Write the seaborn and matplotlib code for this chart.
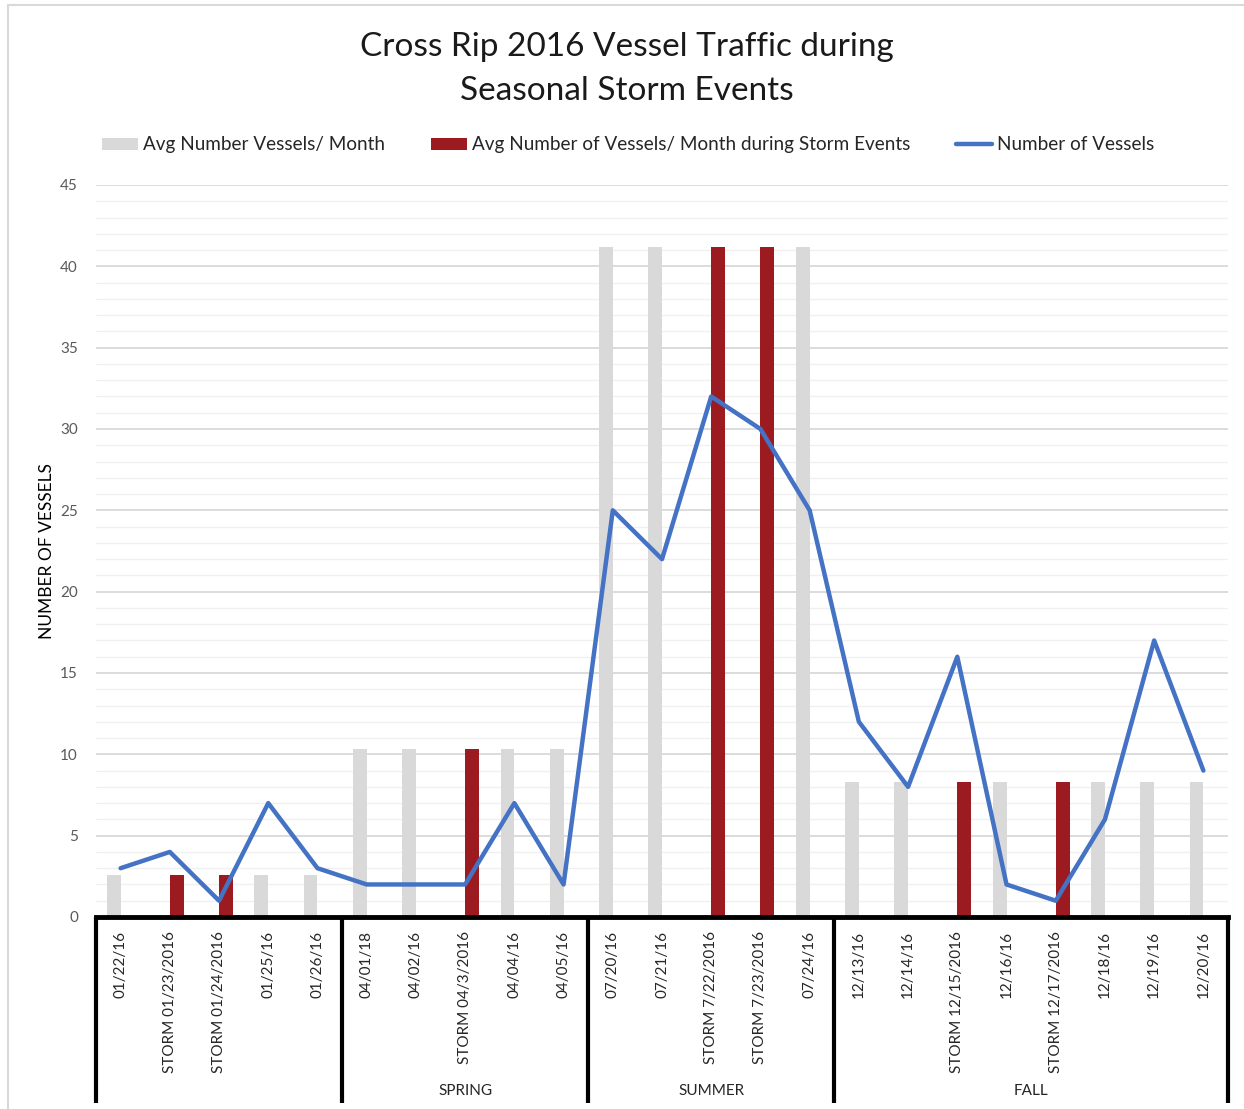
import matplotlib

matplotlib.use("Agg")
import matplotlib.pyplot as plt
import numpy as np
import pandas as pd
import seaborn as sns
from matplotlib.lines import Line2D
from matplotlib.patches import Patch, Rectangle
from matplotlib.ticker import MultipleLocator

# ---------- data ----------
dates = [
    "01/22/16", "STORM 01/23/2016", "STORM 01/24/2016", "01/25/16", "01/26/16",
    "04/01/18", "04/02/16", "STORM 04/3/2016", "04/04/16", "04/05/16",
    "07/20/16", "07/21/16", "STORM 7/22/2016", "STORM 7/23/2016", "07/24/16",
    "12/13/16", "12/14/16", "STORM 12/15/2016", "12/16/16", "STORM 12/17/2016",
    "12/18/16", "12/19/16", "12/20/16",
]
seasons = ["", "SPRING", "SUMMER", "FALL"]
season_sizes = [5, 5, 5, 8]
season_avg = [2.6, 10.3, 41.2, 8.3]
vessels = [3, 4, 1, 7, 3,
           2, 2, 2, 7, 2,
           25, 22, 32, 30, 25,
           12, 8, 16, 2, 1, 6, 17, 9]

avg_label = "Avg Number Vessels/ Month"
storm_label = "Avg Number of Vessels/ Month during Storm Events"
line_label = "Number of Vessels"

GRAY = "#d9d9d9"
RED = "#9b1b20"
BLUE = "#4472c4"

# long table for the bar series
rows = []
avg_per_day = np.repeat(season_avg, season_sizes)
for d, v in zip(dates, avg_per_day):
    storm = d.startswith("STORM")
    rows.append({"date": d, "series": avg_label, "value": 0.0 if storm else v})
    rows.append({"date": d, "series": storm_label, "value": v if storm else 0.0})
df = pd.DataFrame(rows)

# ---------- plot ----------
sns.set_theme(style="white")
plt.rcParams["font.family"] = ["Lato", "DejaVu Sans"]

fig = plt.figure(figsize=(12.44, 11.09), dpi=100)
ax = fig.add_axes([96 / 1244, 1 - 917 / 1109, 1132 / 1244, 732 / 1109])

sns.barplot(
    data=df, x="date", y="value", hue="series", order=dates,
    hue_order=[avg_label, storm_label], palette=[GRAY, RED],
    width=0.56, dodge=True, saturation=1, linewidth=0, legend=False,
    errorbar=None, ax=ax, zorder=3,
)
pos = np.arange(len(dates))
sns.lineplot(x=pos, y=vessels, color=BLUE, linewidth=3.2, ax=ax, zorder=5)

ax.set_xlim(-0.5, len(dates) - 0.5)
ax.set_ylim(0, 45)
ax.yaxis.set_major_locator(MultipleLocator(5))
ax.yaxis.set_minor_locator(MultipleLocator(1))
ax.grid(which="major", axis="y", color="#d9d9d9", linewidth=1.3, zorder=0)
ax.grid(which="minor", axis="y", color="#f0f0f0", linewidth=1.0, zorder=0)
ax.set_axisbelow(True)

for s in ["top", "right", "left"]:
    ax.spines[s].set_visible(False)
ax.spines["bottom"].set_color("black")
ax.spines["bottom"].set_linewidth(3.5)
ax.spines["bottom"].set_zorder(6)

ax.tick_params(axis="y", which="both", length=0, labelsize=11, labelcolor="#595959", pad=13)
ax.tick_params(axis="x", length=0, labelsize=11, labelcolor="#262626", pad=10)
ax.set_xticks(pos)
ax.set_xticklabels(dates, rotation=90, va="top", ha="center")
ax.set_xlabel("")
ax.set_ylabel("NUMBER OF VESSELS", fontsize=12.5, color="#000000")
ax.yaxis.set_label_coords(-0.036, 0.5)

# season groups under the axis
tr = ax.get_xaxis_transform()
bounds = np.concatenate([[0], np.cumsum(season_sizes)]) - 0.5
for b in bounds:
    ax.plot([b, b], [0, -0.254], transform=tr, color="black", linewidth=3,
            clip_on=False, solid_capstyle="butt", zorder=6)
for name, lo, hi in zip(seasons, bounds[:-1], bounds[1:]):
    ax.text((lo + hi) / 2, -0.238, name, transform=tr, ha="center", va="center",
            fontsize=11, color="#262626")

# title and legend
fig.text(0.504, 1 - 69 / 1109, "Cross Rip 2016 Vessel Traffic during\nSeasonal Storm Events",
         ha="center", va="center", fontsize=24, fontweight="normal", linespacing=1.62,
         color="#1a1a1a")
handles = [
    Patch(facecolor=GRAY, edgecolor="none"),
    Patch(facecolor=RED, edgecolor="none"),
    Line2D([0], [0], color=BLUE, linewidth=3.2),
]
fig.legend(handles, [avg_label, storm_label, line_label], loc="center",
           bbox_to_anchor=(0.505, 1 - 145 / 1109), ncol=3, frameon=False,
           fontsize=13.6, handlelength=1.9, handleheight=0.6, handletextpad=0.3,
           columnspacing=2.4, labelcolor="#262626")

# light chart-area border
fig.patches.append(Rectangle((8 / 1244, -0.1), 1.2, 1.1 - 5 / 1109,
                             transform=fig.transFigure, fill=False,
                             edgecolor="#d9d9d9", linewidth=1.5))

fig.savefig("out.png", dpi=100)
